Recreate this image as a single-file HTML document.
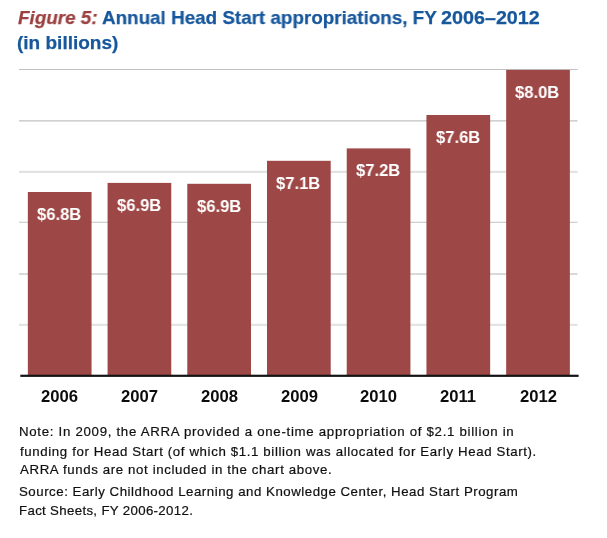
<!DOCTYPE html>
<html><head><meta charset="utf-8">
<style>
html,body{margin:0;padding:0;background:#fff;}
body{width:607px;height:538px;position:relative;overflow:hidden;font-family:"Liberation Sans",sans-serif;}
.t{position:absolute;white-space:nowrap;transform-origin:0 0;line-height:1;will-change:transform;}
.title{font-weight:bold;font-size:19px;color:#17579c;-webkit-text-stroke:0.25px #17579c;}
.tred{font-weight:bold;font-style:italic;font-size:19px;color:#9b3f3f;-webkit-text-stroke:0.25px #9b3f3f;}
.val{color:#fff;font-weight:bold;font-size:17px;}
.yr{color:#0c0c0c;font-weight:bold;font-size:16px;}
.note{font-size:13px;color:#101010;-webkit-text-stroke:0.2px #101010;}
</style></head><body>
<svg width="607" height="538" viewBox="0 0 607 538" style="position:absolute;left:0;top:0">
<line x1="19" x2="577.5" y1="69.5" y2="69.5" stroke="#c0c2c1" stroke-width="1.1"/>
<line x1="19" x2="577.5" y1="120.9" y2="120.9" stroke="#c0c2c1" stroke-width="1.1"/>
<line x1="19" x2="577.5" y1="171.8" y2="171.8" stroke="#e2e2e2" stroke-width="2.2"/>
<line x1="19" x2="577.5" y1="222.3" y2="222.3" stroke="#c0c2c1" stroke-width="1.1"/>
<line x1="19" x2="577.5" y1="274.0" y2="274.0" stroke="#cbcccb" stroke-width="1.3"/>
<line x1="19" x2="577.5" y1="324.8" y2="324.8" stroke="#e4e4e4" stroke-width="2.2"/>
<rect x="27.85" y="192.0" width="63.7" height="183.80" fill="#9d4846"/>
<rect x="107.57" y="182.9" width="63.7" height="192.90" fill="#9d4846"/>
<rect x="187.29" y="183.8" width="63.7" height="192.00" fill="#9d4846"/>
<rect x="267.01" y="160.8" width="63.7" height="215.00" fill="#9d4846"/>
<rect x="346.73" y="148.4" width="63.7" height="227.40" fill="#9d4846"/>
<rect x="426.45" y="115.0" width="63.7" height="260.80" fill="#9d4846"/>
<rect x="506.17" y="69.9" width="63.7" height="305.90" fill="#9d4846"/>
<rect x="20.3" y="374.7" width="558.3" height="2.2" fill="#141414"/>
</svg>
<div class="t tred" id="t1a" style="left:17.5px;top:8px;transform:scaleX(0.9918);letter-spacing:0px;">Figure 5:</div>
<div class="t title" id="t1b" style="left:101.5px;top:8px;transform:scaleX(0.9909);letter-spacing:0px;">Annual Head Start appropriations, FY</div>
<div class="t title" id="t1c" style="left:440.7px;top:8px;transform:scaleX(1.039);letter-spacing:0px;">2006–2012</div>
<div class="t title" id="t2" style="left:17.1px;top:33px;transform:scaleX(0.9999);letter-spacing:0px;">(in billions)</div>
<div class="t note" id="n1" style="left:19.1px;top:425.4px;transform:scaleX(1.02);letter-spacing:0.685px;">Note: In 2009, the ARRA provided a one-time appropriation of $2.1 billion in</div>
<div class="t note" id="n2" style="left:19.5px;top:444.6px;transform:scaleX(1.02);letter-spacing:0.611px;">funding for Head Start (of which $1.1 billion was allocated for Early Head Start).</div>
<div class="t note" id="n3" style="left:19.5px;top:463.2px;transform:scaleX(1.02);letter-spacing:0.61px;">ARRA funds are not included in the chart above.</div>
<div class="t note" id="n4" style="left:18.6px;top:485.4px;transform:scaleX(1.02);letter-spacing:0.51px;">Source: Early Childhood Learning and Knowledge Center, Head Start Program</div>
<div class="t note" id="n5" style="left:18.6px;top:504.2px;transform:scaleX(1.02);letter-spacing:0.322px;">Fact Sheets, FY 2006-2012.</div>
<div class="t val" id="v0" style="left:37.15px;top:205.8px;transform:scaleX(0.975);letter-spacing:0px;">$6.8B</div>
<div class="t val" id="v1" style="left:116.87px;top:196.7px;transform:scaleX(0.975);letter-spacing:0px;">$6.9B</div>
<div class="t val" id="v2" style="left:196.59px;top:197.6px;transform:scaleX(0.975);letter-spacing:0px;">$6.9B</div>
<div class="t val" id="v3" style="left:276.31px;top:174.6px;transform:scaleX(0.975);letter-spacing:0px;">$7.1B</div>
<div class="t val" id="v4" style="left:356.03px;top:162.2px;transform:scaleX(0.975);letter-spacing:0px;">$7.2B</div>
<div class="t val" id="v5" style="left:435.75px;top:128.8px;transform:scaleX(0.975);letter-spacing:0px;">$7.6B</div>
<div class="t val" id="v6" style="left:515.47px;top:83.7px;transform:scaleX(0.975);letter-spacing:0px;">$8.0B</div>
<div class="t yr" id="y0" style="left:41.46px;top:389px;transform:scaleX(1.0405);letter-spacing:0px;">2006</div>
<div class="t yr" id="y1" style="left:121.18px;top:389px;transform:scaleX(1.0405);letter-spacing:0px;">2007</div>
<div class="t yr" id="y2" style="left:200.9px;top:389px;transform:scaleX(1.0405);letter-spacing:0px;">2008</div>
<div class="t yr" id="y3" style="left:280.62px;top:389px;transform:scaleX(1.0405);letter-spacing:0px;">2009</div>
<div class="t yr" id="y4" style="left:360.34px;top:389px;transform:scaleX(1.0405);letter-spacing:0px;">2010</div>
<div class="t yr" id="y5" style="left:440.06px;top:389px;transform:scaleX(1.0405);letter-spacing:0px;">2011</div>
<div class="t yr" id="y6" style="left:519.78px;top:389px;transform:scaleX(1.0405);letter-spacing:0px;">2012</div>
</body></html>
